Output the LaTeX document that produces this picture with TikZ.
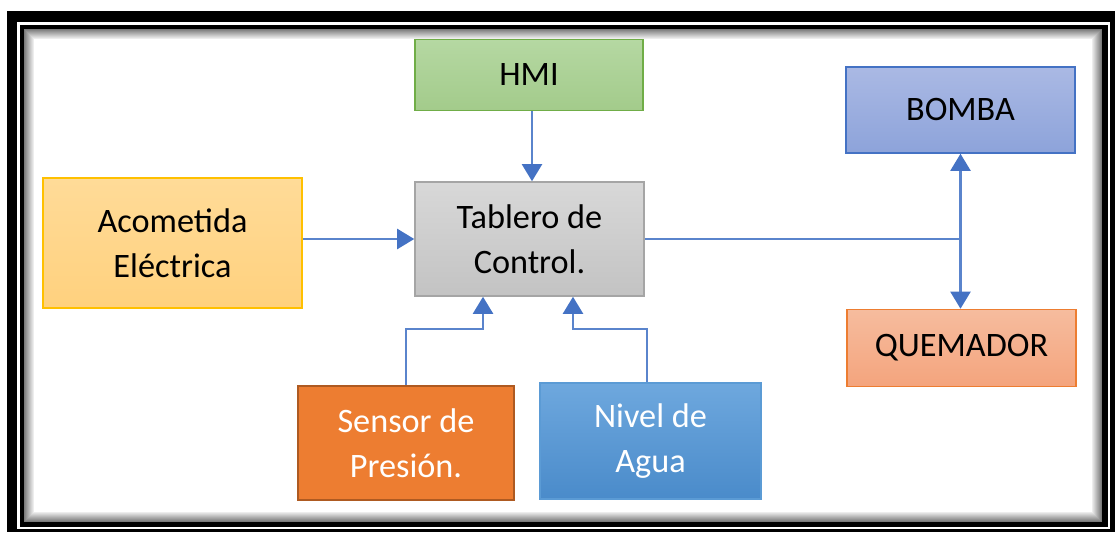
\documentclass[tikz,border=0pt]{standalone}
\usepackage{fontspec}
\setmainfont{Carlito}
\usetikzlibrary{arrows.meta,calc}
\definecolor{arrblue}{HTML}{4472C4}
\definecolor{lineblue}{HTML}{5A84CC}
\definecolor{hmiT}{HTML}{B5D8A2}\definecolor{hmiB}{HTML}{A3CB8B}\definecolor{hmiD}{HTML}{70AD47}
\definecolor{bomT}{HTML}{AAB9E4}\definecolor{bomB}{HTML}{8DA3DA}\definecolor{bomD}{HTML}{4472C4}
\definecolor{acoT}{HTML}{FFDB98}\definecolor{acoB}{HTML}{FFD17E}\definecolor{acoD}{HTML}{FFC000}
\definecolor{tabT}{HTML}{D8D8D8}\definecolor{tabB}{HTML}{C3C3C3}\definecolor{tabD}{HTML}{A5A5A5}
\definecolor{queT}{HTML}{F6BC9E}\definecolor{queB}{HTML}{F4A47D}\definecolor{queD}{HTML}{ED7D31}
\definecolor{senF}{HTML}{ED7D31}\definecolor{senD}{HTML}{AE5A21}
\definecolor{nivT}{HTML}{6EA8DE}\definecolor{nivB}{HTML}{4A8BCA}\definecolor{nivD}{HTML}{5B9BD5}
\tikzset{
  box/.style={rectangle, inner sep=0pt, align=center, line width=0.9pt,
    font=\fontsize{19.5}{25.6}\selectfont},
  conn/.style={draw=lineblue, line width=1.2pt},
  arr/.style={conn, -{Triangle[width=0.4cm,length=0.34cm,color=arrblue]}},
}
\begin{document}
\begin{tikzpicture}[x=0.02cm,y=0.02cm]
\useasboundingbox (0,0) rectangle (1117,-533);
% frame
\fill[black] (7,-11) rectangle (1115,-532);
\fill[white] (17,-22) rectangle (1110,-529);
\fill[black] (20,-25) rectangle (1108,-527);
\fill[white] (24,-29) rectangle (1102,-522);
\foreach \i in {0,...,9} {
  \pgfmathsetmacro\g{int(52-5*\i)}
  \draw[line width=0.021cm, black!\g] (24.5+\i,-29.5-\i) rectangle (1101.5-\i,-521.5+\i);
}
% nodes
\node[box, draw=hmiD, top color=hmiT, bottom color=hmiB, minimum width=4.56cm, minimum height=1.42cm] (hmi) at (529,-75) {HMI};
\node[box, draw=bomD, top color=bomT, bottom color=bomB, minimum width=4.58cm, minimum height=1.72cm] (bom) at (960.5,-110) {BOMBA};
\node[box, draw=acoD, top color=acoT, bottom color=acoB, minimum width=5.18cm, minimum height=2.6cm] (aco) at (172.5,-243) {Acometida\\Eléctrica};
\node[box, draw=tabD, top color=tabT, bottom color=tabB, minimum width=4.58cm, minimum height=2.28cm] (tab) at (529.5,-239) {Tablero de\\Control.};
\node[box, draw=queD, top color=queT, bottom color=queB, minimum width=4.58cm, minimum height=1.54cm] (que) at (961.5,-348) {QUEMADOR};
\node[box, draw=senD, fill=senF, text=white, minimum width=4.32cm, minimum height=2.28cm] (sen) at (406,-443) {Sensor de\\Presión.};
\node[box, draw=nivD, top color=nivT, bottom color=nivB, text=white, minimum width=4.42cm, minimum height=2.32cm] (niv) at (650.5,-441) {Nivel de\\Agua};
% connectors
\coordinate (hb) at ([xshift=0.06cm]hmi.south);
\draw[arr] (hb) -- (hb |- tab.north);
\draw[arr] (aco.east |- tab.west) -- (tab.west);
\coordinate (j) at (tab.east -| bom.south);
\draw[conn] (tab.east) -- (j);
\draw[arr] (j) -- (bom.south);
\draw[arr] (j) -- (j |- que.north);
\coordinate (mid) at (0,-329);
\coordinate (t1) at ([xshift=-0.93cm]tab.south);
\coordinate (t2) at ([xshift=0.87cm]tab.south);
\coordinate (nt) at ([xshift=-0.07cm]niv.north);
\draw[arr] (sen.north) -- (sen.north |- mid) -| (t1);
\draw[arr] (nt) -- (nt |- mid) -| (t2);
\end{tikzpicture}
\end{document}
